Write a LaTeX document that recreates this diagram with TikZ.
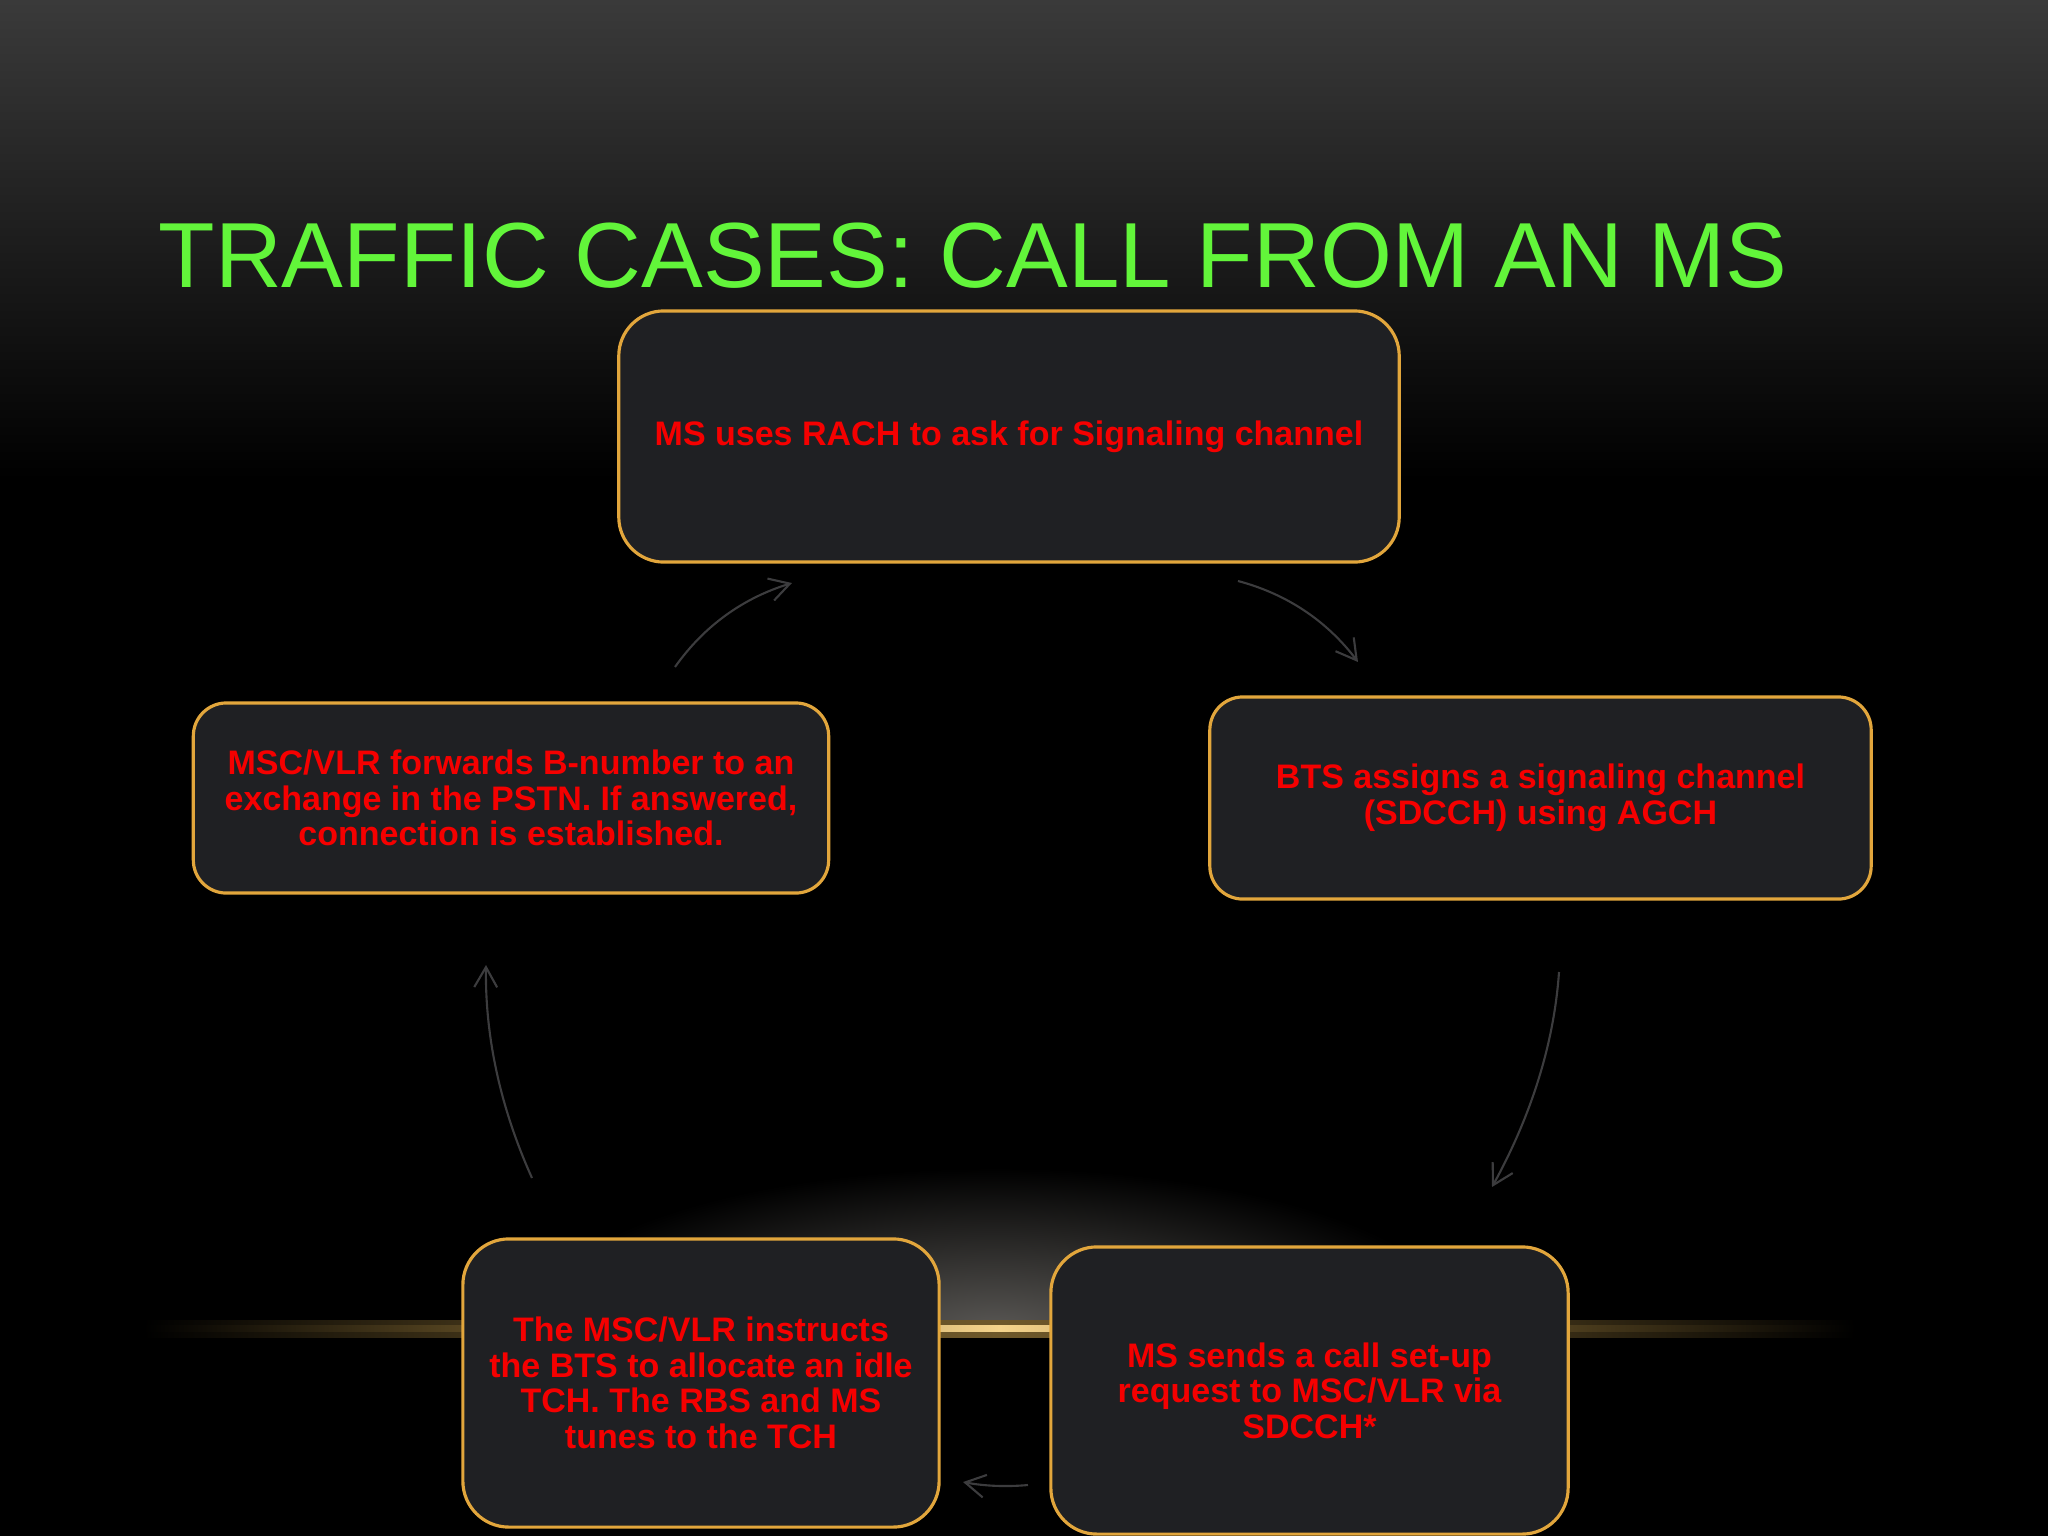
\documentclass[tikz,border=0pt]{standalone}
\usepackage{fontspec}
\setmainfont{Liberation Sans}
\usetikzlibrary{arrows.meta}
\definecolor{bgtop}{RGB}{58,58,58}
\definecolor{boxfill}{RGB}{31,32,35}
\definecolor{boxline}{RGB}{226,166,60}
\definecolor{titlegreen}{RGB}{98,245,58}
\definecolor{arrowgray}{RGB}{60,60,62}
\definecolor{glowc}{RGB}{88,86,83}
\definecolor{golddim}{RGB}{110,88,42}
\definecolor{goldmid}{RGB}{175,140,70}
\definecolor{goldbright}{RGB}{245,212,140}
\definecolor{txtred}{RGB}{245,0,0}
\pgfdeclareradialshading{glowshade}{\pgfpoint{0bp}{0bp}}{color(0bp)=(glowc); color(25bp)=(black); color(50bp)=(black)}
\pgfdeclarehorizontalshading{golddimshade}{100bp}{color(0bp)=(black); color(25bp)=(black); color(37bp)=(golddim!70!black); color(50bp)=(golddim); color(63bp)=(golddim!70!black); color(75bp)=(black); color(100bp)=(black)}
\pgfdeclarehorizontalshading{goldbrightshade}{100bp}{color(0bp)=(black); color(25bp)=(black); color(37bp)=(golddim); color(50bp)=(goldbright); color(63bp)=(golddim); color(75bp)=(black); color(100bp)=(black)}
\tikzset{
  stepbox/.style={draw=boxline, line width=0.9pt, fill=boxfill, inner sep=0pt,
    align=center, text=txtred, font=\fontsize{9.67pt}{10.1pt}\selectfont\bfseries},
  flow/.style={draw=arrowgray, line width=0.6pt, -{Straight Barb[length=5.7pt,width=6.5pt]}},
}
\begin{document}
\begin{tikzpicture}[x=0.01cm, y=-0.01cm]
\useasboundingbox (0,0) rectangle (2048,1536);
% background
\fill[black] (0,0) rectangle (2048,1536);
\shade[top color=bgtop, bottom color=black] (0,0) rectangle (2048,480);
\begin{scope}
  \clip (0,1000) rectangle (2048,1328);
  \shade[shading=glowshade] (995,1328) ellipse (470 and 160);
\end{scope}
\shade[shading=golddimshade] (144,1320) rectangle (1855,1337);
\shade[shading=goldbrightshade] (144,1325) rectangle (1855,1331);
% title
\node[anchor=base west, text=titlegreen, inner sep=0pt,
  font=\fontsize{26.3pt}{30pt}\selectfont] (title) at (158,287) {TRAFFIC CASES: CALL FROM AN MS};
% boxes
\node[stepbox, rounded corners=0.45cm, minimum width=7.80cm, minimum height=2.51cm] (top) at (1009,436.5)
  {MS uses RACH to ask for Signaling channel};
\node[stepbox, rounded corners=0.33cm, minimum width=6.61cm, minimum height=2.02cm] (right) at (1540.5,798)
  {BTS assigns a signaling channel\\(SDCCH) using AGCH};
\node[stepbox, rounded corners=0.46cm, minimum width=5.17cm, minimum height=2.87cm] (br) at (1309.5,1390.5)
  {MS sends a call set-up\\request to MSC/VLR via\\SDCCH*};
\node[stepbox, rounded corners=0.46cm, minimum width=4.76cm, minimum height=2.88cm] (bl) at (701,1383)
  {The MSC/VLR instructs\\the BTS to allocate an idle\\TCH. The RBS and MS\\tunes to the TCH};
\node[stepbox, rounded corners=0.33cm, minimum width=6.35cm, minimum height=1.90cm] (left) at (511,798)
  {MSC/VLR forwards B-number to an\\exchange in the PSTN. If answered,\\connection is established.};
% connector end points
\coordinate (a1s) at (1238,581);  \coordinate (a1e) at (1358,662);
\coordinate (a2s) at (1559,972);  \coordinate (a2e) at (1492,1187);
\coordinate (a3s) at (1028,1485); \coordinate (a3e) at (963,1482);
\coordinate (a4s) at (532,1178);  \coordinate (a4e) at (486,965);
\coordinate (a5s) at (675,667);   \coordinate (a5e) at (792,583);
% connectors
\draw[flow] (a1s) .. controls (1287,594) and (1327,621) .. (a1e);
\draw[flow] (a2s) .. controls (1554,1044) and (1531,1116) .. (a2e);
\draw[flow] (a3s) .. controls (1006,1487) and (984,1486) .. (a3e);
\draw[flow] (a4s) .. controls (500,1107) and (485,1036) .. (a4e);
\draw[flow] (a5s) .. controls (704,626) and (743,598) .. (a5e);
\end{tikzpicture}
\end{document}
